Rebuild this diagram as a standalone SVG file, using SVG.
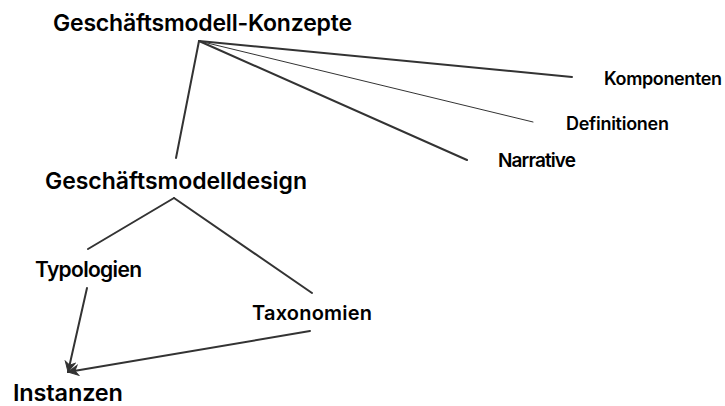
<svg xmlns="http://www.w3.org/2000/svg" width="725" height="406" viewBox="0 0 725 406">
<style>
text{font-family:Inter,Roboto,"Liberation Sans",sans-serif;font-weight:600;fill:#000}
.e{stroke:#333;fill:none;stroke-linecap:round}
</style>
<defs>
<marker id="ah" viewBox="0 0 12 12" refX="11" refY="6" markerWidth="12" markerHeight="12" markerUnits="userSpaceOnUse" orient="auto">
<path d="M1,1 L11,6 L1,11 L4,6 Z" fill="#333" stroke="#333" stroke-width="1" stroke-linejoin="miter"/>
</marker>
</defs>
<rect width="725" height="406" fill="#fff"/>
<g id="connectors">
<line class="e" x1="199" y1="41" x2="176" y2="158" stroke-width="2"/>
<line class="e" x1="199" y1="41" x2="572" y2="77" stroke-width="2"/>
<line class="e" x1="199" y1="41" x2="533" y2="122" stroke-width="1"/>
<line class="e" x1="199" y1="41" x2="467" y2="160" stroke-width="2"/>
<line class="e" x1="174" y1="198" x2="88" y2="249" stroke-width="2"/>
<line class="e" x1="174" y1="198" x2="312" y2="293" stroke-width="2"/>
<line class="e" x1="87" y1="288" x2="68" y2="372" stroke-width="2" marker-end="url(#ah)"/>
<line class="e" x1="310" y1="331" x2="68" y2="372" stroke-width="2" marker-end="url(#ah)"/>
</g>
<g id="n-konzepte"><text x="53" y="31" font-size="23" textLength="299">Geschäftsmodell-Konzepte</text></g>
<g id="n-komponenten"><text x="604" y="85" font-size="18" textLength="118">Komponenten</text></g>
<g id="n-definitionen"><text x="566" y="130" font-size="18" textLength="103">Definitionen</text></g>
<g id="n-narrative"><text x="498" y="167" font-size="19" textLength="78">Narrative</text></g>
<g id="n-design"><text x="45" y="189" font-size="23" textLength="262">Geschäftsmodelldesign</text></g>
<g id="n-typologien"><text x="35" y="277" font-size="21" textLength="107">Typologien</text></g>
<g id="n-taxonomien"><text x="252" y="320" font-size="20" textLength="120">Taxonomien</text></g>
<g id="n-instanzen"><text x="13" y="401" font-size="23.5" textLength="110">Instanzen</text></g>
</svg>
